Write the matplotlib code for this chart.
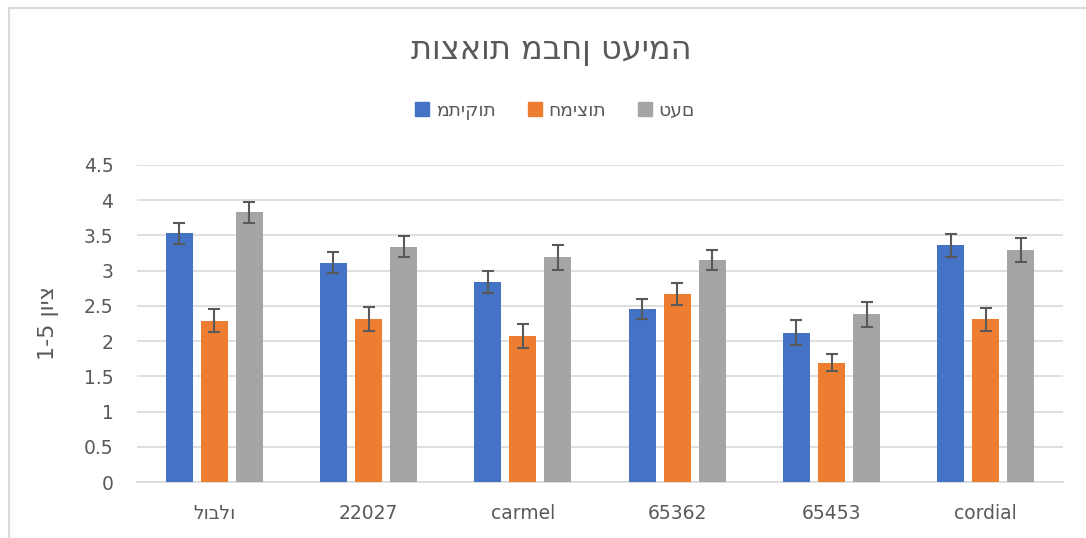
import matplotlib
matplotlib.use("Agg")
import matplotlib.pyplot as plt
import numpy as np
from matplotlib.lines import Line2D

# texts in the order the glyphs appear left to right in the chart
title = "תוצאות מבחן טעימה"
y_label = "1-5 ןויצ"
categories = ["לובלו", "22027", "carmel", "65362", "65453", "cordial"]
series_names = ["מתיקות", "חמיצות", "טעם"]

sweetness = [3.53, 3.11, 2.84, 2.46, 2.12, 3.36]
sweetness_err = [0.15, 0.15, 0.16, 0.14, 0.18, 0.16]
sourness = [2.29, 2.31, 2.07, 2.67, 1.69, 2.31]
sourness_err = [0.16, 0.17, 0.17, 0.16, 0.12, 0.16]
taste = [3.83, 3.34, 3.19, 3.15, 2.38, 3.29]
taste_err = [0.15, 0.15, 0.18, 0.14, 0.18, 0.17]

colors = ["#4472C4", "#ED7D31", "#A5A5A5"]
text_color = "#595959"
grid_color = "#D9D9D9"

plt.rcParams["font.family"] = ["DejaVu Sans"]

fig = plt.figure(figsize=(10.86, 5.38), dpi=100)
ax = fig.add_axes([137 / 1086, 1 - 482 / 538, 926 / 1086, 317 / 538])

x = np.arange(len(categories))
width = 0.175
step = 0.227
values = [sweetness, sourness, taste]
errors = [sweetness_err, sourness_err, taste_err]
for i in range(3):
    ax.bar(x + (i - 1) * step, values[i], width, color=colors[i],
           label=series_names[i], zorder=3,
           yerr=errors[i], capsize=4.5,
           error_kw=dict(ecolor=text_color, elinewidth=1.5, capthick=1.5, zorder=4))

ax.set_xlim(-0.5, 5.5)
ax.set_ylim(0, 4.5)
ax.set_yticks(np.arange(0, 4.51, 0.5))
ax.set_yticklabels(["0", "0.5", "1", "1.5", "2", "2.5", "3", "3.5", "4", "4.5"])
ax.set_xticks(x)
ax.set_xticklabels(categories)
ax.grid(axis="y", color=grid_color, linewidth=1.2, zorder=0)
for s in ["top", "right", "left"]:
    ax.spines[s].set_visible(False)
ax.spines["bottom"].set_color(grid_color)
ax.spines["bottom"].set_linewidth(1.2)
ax.tick_params(axis="both", length=0, colors=text_color, labelsize=13.5)
ax.tick_params(axis="y", pad=17)
ax.tick_params(axis="x", pad=16)

ax.set_ylabel(y_label, fontsize=16, color=text_color)
ax.yaxis.set_label_coords(-0.084, 0.5)

fig.text(551 / 1086, 1 - 50 / 538, title, ha="center", va="center",
         fontsize=23, color=text_color)

handles = [plt.Rectangle((0, 0), 1, 1, color=c) for c in colors]
fig.legend(handles, series_names, loc="center", bbox_to_anchor=(555 / 1086, 1 - 110 / 538),
           ncol=3, frameon=False, fontsize=13.5, labelcolor=text_color,
           handlelength=0.75, handleheight=0.75, handletextpad=0.35,
           columnspacing=1.7)

# chart frame (left and top edges visible in the original)
fig.add_artist(Line2D([8.5 / 1086, 8.5 / 1086], [0, 1 - 7.5 / 538],
                      transform=fig.transFigure, color=grid_color, linewidth=1.5))
fig.add_artist(Line2D([8.5 / 1086, 1], [1 - 7.5 / 538, 1 - 7.5 / 538],
                      transform=fig.transFigure, color=grid_color, linewidth=1.5))

fig.savefig("out.png", dpi=100)
